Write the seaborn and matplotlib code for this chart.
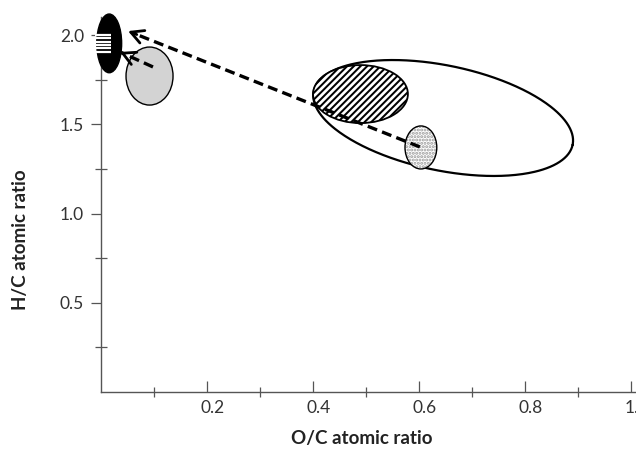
import numpy as np
import pandas as pd
import matplotlib
matplotlib.use("Agg")
import matplotlib.pyplot as plt
from matplotlib.patches import Ellipse
from matplotlib.transforms import ScaledTranslation
import seaborn as sns

# ---------------- data (O/C, H/C atomic ratios) ----------------
region_names = ["black", "gray", "hatched", "dotted"]
region_oc = [0.0149, 0.091, 0.489, 0.603]
region_hc = [1.953, 1.770, 1.669, 1.370]
region_w = [0.047, 0.0887, 0.179, 0.060]
region_h = [0.329, 0.325, 0.325, 0.241]

big_center = [0.645, 1.535]
big_axis1 = [0.2443, -0.1501]
big_axis2 = [-0.0200, -0.288]

stripe_hc = [2.000, 1.981, 1.963, 1.944, 1.925, 1.907]
stripe_oc = [-0.012, 0.018]

arrow_start_oc = [0.601, 0.0975]
arrow_start_hc = [1.373, 1.821]
arrow_end_oc = [0.0504, 0.0353]
arrow_end_hc = [2.022, 1.905]

x_major = [0.2, 0.4, 0.6, 0.8, 1.0]
x_labels = ["0.2", "0.4", "0.6", "0.8", "1.0"]
x_minor = [0.1, 0.3, 0.5, 0.7, 0.9]
y_major = [0.5, 1.0, 1.5, 2.0]
y_labels = ["0.5", "1.0", "1.5", "2.0"]
y_minor = [0.25, 0.75, 1.25, 1.75]

# ---------------- style ----------------
sns.set_theme(style="white")
plt.rcParams["font.family"] = ["Lato", "DejaVu Sans"]
plt.rcParams["hatch.linewidth"] = 1.45

W, H = 636, 449
fig = plt.figure(figsize=(W / 100, H / 100), dpi=100)
ax = fig.add_axes([101.3 / W, (H - 392) / H, (W - 101.3) / W, (392 - 17) / H])
ax.set_xlim(0, 534.7 / 530)
ax.set_ylim(0, 375 / 178.5)

# large open ellipse (drawn with seaborn)
t = np.linspace(0, 2 * np.pi, 400)
big_df = pd.DataFrame({
    "oc": big_center[0] + big_axis1[0] * np.cos(t) + big_axis2[0] * np.sin(t),
    "hc": big_center[1] + big_axis1[1] * np.cos(t) + big_axis2[1] * np.sin(t),
})
sns.lineplot(data=big_df, x="oc", y="hc", sort=False, estimator=None,
             color="black", lw=1.6, ax=ax, zorder=2)

styles = {
    "black": dict(facecolor="black", edgecolor="black", lw=1.0, zorder=3),
    "gray": dict(facecolor="#d3d3d3", edgecolor="black", lw=1.0, zorder=3),
    "hatched": dict(facecolor="white", edgecolor="black", lw=1.3, hatch="/////", zorder=3),
    "dotted": dict(facecolor="white", edgecolor="#9a9a9a", lw=0, hatch=".....", zorder=4),
}
for name, x, y, w, h in zip(region_names, region_oc, region_hc, region_w, region_h):
    ax.add_patch(Ellipse((x, y), w, h, clip_on=False, **styles[name]))
    if name == "dotted":
        ax.add_patch(Ellipse((x, y), w, h, facecolor="none", edgecolor="black",
                             lw=1.0, zorder=4, clip_on=False))

ax.hlines(stripe_hc, stripe_oc[0], stripe_oc[1], color="white", lw=1.6,
          zorder=4, clip_on=False)

# dashed arrows
for x0, y0, x1, y1 in zip(arrow_start_oc, arrow_start_hc, arrow_end_oc, arrow_end_hc):
    bx = x1 + (x0 - x1) * 0.03
    by = y1 + (y0 - y1) * 0.03
    ax.plot([x0, bx], [y0, by], color="black", lw=2.4, dashes=(3, 1.6),
            zorder=6, clip_on=False, dash_capstyle="butt")
    ax.annotate("", xy=(x1, y1), xytext=(bx, by),
                arrowprops=dict(arrowstyle="->,head_length=0.75,head_width=0.4",
                                lw=2.0, color="black", shrinkA=0, shrinkB=0),
                zorder=6, annotation_clip=False)

# axes / ticks
for s in ["top", "right"]:
    ax.spines[s].set_visible(False)
for s in ["left", "bottom"]:
    ax.spines[s].set_color("#555555")
    ax.spines[s].set_linewidth(1.0)
    ax.spines[s].set_zorder(1)

ax.set_xticks(x_major)
ax.set_xticklabels(x_labels)
ax.set_xticks(x_minor, minor=True)
ax.set_yticks(y_major)
ax.set_yticklabels(y_labels)
ax.set_yticks(y_minor, minor=True)

ax.tick_params(which="both", bottom=True, left=True, top=False, right=False)
ax.tick_params(axis="x", which="major", direction="in", length=8, width=0.9,
               color="#555555", pad=6, labelsize=12.5, labelcolor="#333333")
ax.tick_params(axis="x", which="minor", direction="inout", length=7.5, width=0.9,
               color="#555555")
ax.tick_params(axis="y", which="major", direction="out", length=7.5, width=0.9,
               color="#555555", pad=5, labelsize=12.5, labelcolor="#333333")
ax.tick_params(axis="y", which="minor", direction="inout", length=8, width=0.9,
               color="#555555")

offset = ScaledTranslation(5.5 / 100, 0, fig.dpi_scale_trans)
for lab in ax.get_xticklabels():
    lab.set_transform(lab.get_transform() + offset)

ax.set_xlabel("O/C atomic ratio", fontsize=13.5, fontweight="bold", color="#222222")
ax.set_ylabel("H/C atomic ratio", fontsize=13.5, fontweight="bold", color="#222222")
ax.xaxis.set_label_coords(0.4876, -0.123)
ax.yaxis.set_label_coords(-0.152, 0.405)
ax.xaxis.label.set_va("center")
ax.yaxis.label.set_va("center")
ax.grid(False)

fig.savefig("out.png", dpi=100)
